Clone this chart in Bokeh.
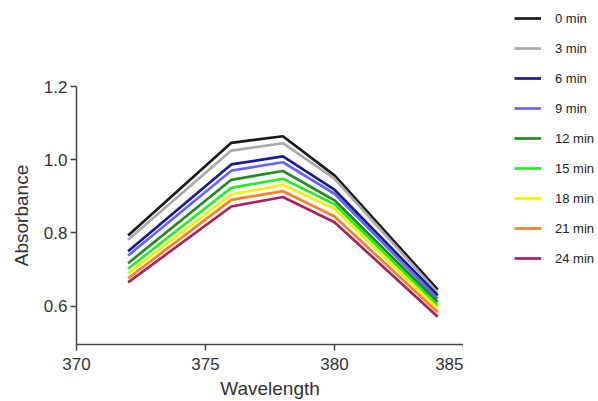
from bokeh.plotting import figure
from bokeh.models import Range1d, FixedTicker, Legend, LegendItem, CustomJSTickFormatter
from bokeh.layouts import row
from bokeh.embed import file_html
from bokeh.resources import INLINE

wavelength = [372, 376, 378, 380, 384]
labels = ["0 min", "3 min", "6 min", "9 min", "12 min", "15 min", "18 min", "21 min", "24 min"]
colors = ["#1a1a1a", "#aaaaaa", "#1a1a99", "#6666ff", "#1f8c1f", "#22ee22", "#f2f200", "#ff7f27", "#aa2060"]
abs_0 = [0.793, 1.046, 1.064, 0.957, 0.645]
abs_3 = [0.781, 1.025, 1.045, 0.948, 0.637]
abs_6 = [0.750, 0.987, 1.009, 0.918, 0.629]
abs_9 = [0.738, 0.970, 0.993, 0.907, 0.620]
abs_12 = [0.717, 0.945, 0.969, 0.889, 0.611]
abs_15 = [0.702, 0.923, 0.948, 0.878, 0.602]
abs_18 = [0.689, 0.905, 0.931, 0.866, 0.593]
abs_21 = [0.676, 0.890, 0.914, 0.845, 0.583]
abs_24 = [0.665, 0.872, 0.898, 0.829, 0.571]
series = [abs_0, abs_3, abs_6, abs_9, abs_12, abs_15, abs_18, abs_21, abs_24]
x_ticks = [370, 375, 380, 385]
y_ticks = [0.6, 0.8, 1.0, 1.2]

FONT = "Liberation Sans"

p = figure(width=463, height=401, output_backend="svg", toolbar_location=None,
           x_range=Range1d(370, 385), y_range=Range1d(0.495, 1.2),
           min_border_left=76, min_border_right=0, min_border_top=86, min_border_bottom=57)
p.frame_width = 387
p.frame_height = 258
p.outline_line_color = None
p.xgrid.visible = False
p.ygrid.visible = False

for col, ys in zip(colors, series):
    p.line(wavelength, ys, line_color=col, line_width=2.7)

for ax in (p.xaxis[0], p.yaxis[0]):
    ax.axis_line_color = "#444444"
    ax.axis_line_width = 1.5
    ax.major_tick_line_color = "#444444"
    ax.major_tick_line_width = 1.5
    ax.major_tick_out = 6
    ax.major_tick_in = 0
    ax.minor_tick_line_color = None
    ax.major_label_text_font = FONT
    ax.major_label_text_font_size = "17px"
    ax.major_label_text_color = "#333333"
    ax.axis_label_text_font = FONT
    ax.axis_label_text_font_size = "19px"
    ax.axis_label_text_font_style = "normal"
    ax.axis_label_text_color = "#333333"

p.xaxis[0].ticker = FixedTicker(ticks=x_ticks)
p.yaxis[0].ticker = FixedTicker(ticks=y_ticks)
p.yaxis[0].formatter = CustomJSTickFormatter(code="return tick.toFixed(1);")
p.xaxis[0].axis_label = "Wavelength"
p.yaxis[0].axis_label = "Absorbance"
p.xaxis[0].axis_label_standoff = 5
p.yaxis[0].axis_label_standoff = 9
p.xaxis[0].major_label_standoff = 7
p.yaxis[0].major_label_standoff = 3

# legend panel
q = figure(width=135, height=401, output_backend="svg", toolbar_location=None,
           x_range=Range1d(0, 1), y_range=Range1d(0, 1),
           min_border=0, min_border_left=0, min_border_right=0,
           min_border_top=0, min_border_bottom=0)
q.frame_width = 135
q.frame_height = 401
q.axis.visible = False
q.grid.visible = False
q.outline_line_color = None
items = []
for lab, col in zip(labels, colors):
    r = q.line([5, 6], [5, 6], line_color=col, line_width=2.7)
    items.append(LegendItem(label=lab, renderers=[r]))
legend = Legend(items=items, location=(51, 133), glyph_width=27, glyph_height=20,
                label_height=20, spacing=10, padding=0, margin=0, label_standoff=14,
                label_text_font=FONT, label_text_font_size="13px",
                label_text_color="#222222", border_line_alpha=0, background_fill_alpha=0)
q.add_layout(legend, "center")

layout = row(p, q, spacing=0)
open("out.html", "w").write(file_html(layout, INLINE))
